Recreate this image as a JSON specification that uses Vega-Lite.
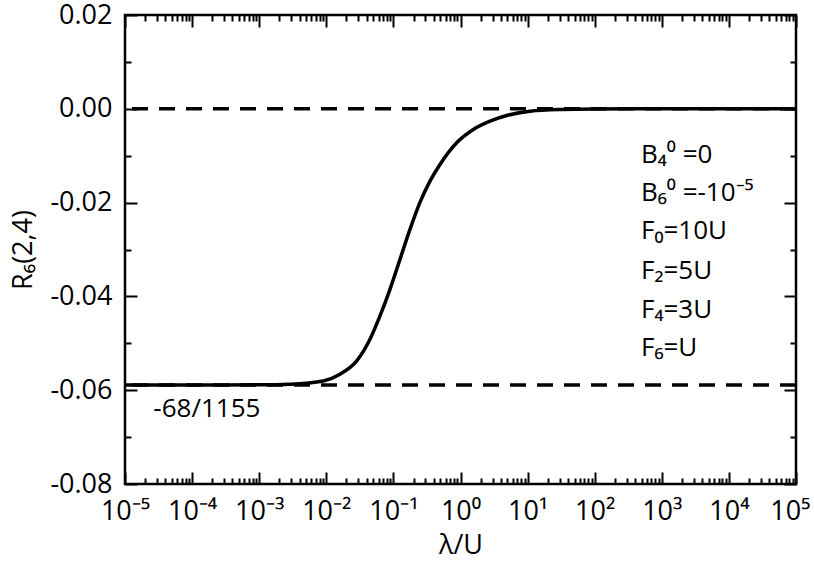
{
  "$schema": "https://vega.github.io/schema/vega-lite/v6.json",
  "width": 671,
  "height": 469,
  "autosize": "none",
  "padding": {"left": 125, "top": 15, "right": 18, "bottom": 81},
  "background": "white",
  "config": {
    "view": {"stroke": "black", "strokeWidth": 2.5},
    "font": "Open Sans",
    "axis": {
      "labelFont": "Open Sans",
      "titleFont": "Open Sans",
      "labelColor": "black",
      "titleColor": "black",
      "tickColor": "black",
      "domain": false,
      "grid": false,
      "tickWidth": 2,
      "labelFontSize": 27,
      "titleFontSize": 27,
      "titleFontWeight": "normal"
    }
  },
  "datasets": {
    "curve": [
      {"lam": 0.00001, "r": -0.05887},
      {"lam": 0.0001, "r": -0.05887},
      {"lam": 0.001, "r": -0.05886},
      {"lam": 0.002877, "r": -0.05872},
      {"lam": 0.009016, "r": -0.05802},
      {"lam": 0.016, "r": -0.05659},
      {"lam": 0.02838, "r": -0.05376},
      {"lam": 0.04477, "r": -0.04914},
      {"lam": 0.0631, "r": -0.04417},
      {"lam": 0.08892, "r": -0.03849},
      {"lam": 0.1253, "r": -0.0321},
      {"lam": 0.1766, "r": -0.02571},
      {"lam": 0.2489, "r": -0.01996},
      {"lam": 0.3508, "r": -0.01542},
      {"lam": 0.4943, "r": -0.01186},
      {"lam": 0.877, "r": -0.00724},
      {"lam": 1.552, "r": -0.00441},
      {"lam": 2.754, "r": -0.00264},
      {"lam": 4.887, "r": -0.00143},
      {"lam": 10.86, "r": -0.00051},
      {"lam": 31.6, "r": -0.00015},
      {"lam": 100, "r": -0.00004},
      {"lam": 1000, "r": 0},
      {"lam": 10000, "r": 0},
      {"lam": 100000, "r": 0}
    ],
    "levels": [
      {"level": 0},
      {"level": -0.058874}
    ],
    "notes": [
      {"lx": 490, "ly": -0.0115, "t": "B₄⁰ =0"},
      {"lx": 490, "ly": -0.01968, "t": "B₆⁰ =-10⁻⁵"},
      {"lx": 490, "ly": -0.02784, "t": "F₀=10U"},
      {"lx": 490, "ly": -0.03636, "t": "F₂=5U"},
      {"lx": 490, "ly": -0.04452, "t": "F₄=3U"},
      {"lx": 490, "ly": -0.05269, "t": "F₆=U"}
    ],
    "label": [
      {"lx": 0.0000264, "ly": -0.06582, "t": "-68/1155"}
    ]
  },
  "layer": [
    {
      "data": {"name": "levels"},
      "mark": {"type": "rule", "color": "black", "strokeWidth": 3.5, "strokeDash": [16, 11]},
      "encoding": {
        "y": {
          "field": "level",
          "type": "quantitative",
          "scale": {"domain": [-0.08, 0.02], "nice": false, "zero": false},
          "axis": {
            "orient": "right",
            "values": [-0.08, -0.07, -0.06, -0.05, -0.04, -0.03, -0.02, -0.01, 0, 0.01, 0.02],
            "tickSize": {"condition": {"test": "abs(round(datum.value*100))%2==0", "value": -12}, "value": -6},
            "labels": false,
            "title": null
          }
        }
      }
    },
    {
      "data": {"name": "curve"},
      "mark": {"type": "line", "color": "black", "strokeWidth": 3.5, "interpolate": "monotone"},
      "encoding": {
        "x": {
          "field": "lam",
          "type": "quantitative",
          "scale": {"type": "log", "domain": [0.00001, 100000], "nice": false},
          "axis": {
            "orient": "bottom",
            "values": [1e-5, 2e-5, 3e-5, 4e-5, 5e-5, 6e-5, 7e-5, 8e-5, 9e-5,
                       1e-4, 2e-4, 3e-4, 4e-4, 5e-4, 6e-4, 7e-4, 8e-4, 9e-4,
                       0.001, 0.002, 0.003, 0.004, 0.005, 0.006, 0.007, 0.008, 0.009,
                       0.01, 0.02, 0.03, 0.04, 0.05, 0.06, 0.07, 0.08, 0.09,
                       0.1, 0.2, 0.3, 0.4, 0.5, 0.6, 0.7, 0.8, 0.9,
                       1, 2, 3, 4, 5, 6, 7, 8, 9,
                       10, 20, 30, 40, 50, 60, 70, 80, 90,
                       100, 200, 300, 400, 500, 600, 700, 800, 900,
                       1000, 2000, 3000, 4000, 5000, 6000, 7000, 8000, 9000,
                       10000, 20000, 30000, 40000, 50000, 60000, 70000, 80000, 90000,
                       100000],
            "tickSize": {"condition": {"test": "abs(log(datum.value)/LN10 - round(log(datum.value)/LN10)) < 0.001", "value": -12}, "value": -6},
            "labelExpr": "abs(log(datum.value)/LN10 - round(log(datum.value)/LN10)) < 0.001 ? '10' + replace(replace(replace(replace(replace(replace(replace(toString(round(log(datum.value)/LN10)),'-','⁻'),'0','⁰'),'1','¹'),'2','²'),'3','³'),'4','⁴'),'5','⁵') : ''",
            "labelAlign": {"condition": {"test": "datum.value > 50000", "value": "right"}, "value": "center"},
            "labelOffset": {"condition": {"test": "datum.value > 50000", "value": 14}, "value": 0},
            "labelPadding": 26,
            "labelFlush": false,
            "labelOverlap": false,
            "title": "λ/U",
            "titlePadding": 2
          }
        },
        "y": {
          "field": "r",
          "type": "quantitative",
          "scale": {"domain": [-0.08, 0.02], "nice": false, "zero": false},
          "axis": {
            "orient": "left",
            "values": [-0.08, -0.07, -0.06, -0.05, -0.04, -0.03, -0.02, -0.01, 0, 0.01, 0.02],
            "tickSize": {"condition": {"test": "abs(round(datum.value*100))%2==0", "value": -12}, "value": -6},
            "labelExpr": "abs(round(datum.value*100))%2==0 ? replace(format(datum.value, '.2f'), '\u2212', '-') : ''",
            "labelPadding": 25,
            "labelFlush": false,
            "labelOverlap": false,
            "title": "R₆(2,4)",
            "titlePadding": 12
          }
        }
      }
    },
    {
      "data": {"name": "notes"},
      "mark": {"type": "text", "align": "left", "baseline": "alphabetic", "fontSize": 26, "color": "black", "font": "Open Sans"},
      "encoding": {
        "x": {
          "field": "lx",
          "type": "quantitative",
          "axis": {
            "orient": "top",
            "values": [1e-5, 2e-5, 3e-5, 4e-5, 5e-5, 6e-5, 7e-5, 8e-5, 9e-5,
                       1e-4, 2e-4, 3e-4, 4e-4, 5e-4, 6e-4, 7e-4, 8e-4, 9e-4,
                       0.001, 0.002, 0.003, 0.004, 0.005, 0.006, 0.007, 0.008, 0.009,
                       0.01, 0.02, 0.03, 0.04, 0.05, 0.06, 0.07, 0.08, 0.09,
                       0.1, 0.2, 0.3, 0.4, 0.5, 0.6, 0.7, 0.8, 0.9,
                       1, 2, 3, 4, 5, 6, 7, 8, 9,
                       10, 20, 30, 40, 50, 60, 70, 80, 90,
                       100, 200, 300, 400, 500, 600, 700, 800, 900,
                       1000, 2000, 3000, 4000, 5000, 6000, 7000, 8000, 9000,
                       10000, 20000, 30000, 40000, 50000, 60000, 70000, 80000, 90000,
                       100000],
            "tickSize": {"condition": {"test": "abs(log(datum.value)/LN10 - round(log(datum.value)/LN10)) < 0.001", "value": -12}, "value": -6},
            "labels": false,
            "title": null
          }
        },
        "y": {"field": "ly", "type": "quantitative", "axis": null},
        "text": {"field": "t"}
      }
    },
    {
      "data": {"name": "label"},
      "mark": {"type": "text", "align": "left", "baseline": "alphabetic", "fontSize": 26, "color": "black", "font": "Open Sans"},
      "encoding": {
        "x": {"field": "lx", "type": "quantitative", "axis": null},
        "y": {"field": "ly", "type": "quantitative", "axis": null},
        "text": {"field": "t"}
      }
    }
  ],
  "resolve": {"axis": {"x": "independent", "y": "independent"}}
}
